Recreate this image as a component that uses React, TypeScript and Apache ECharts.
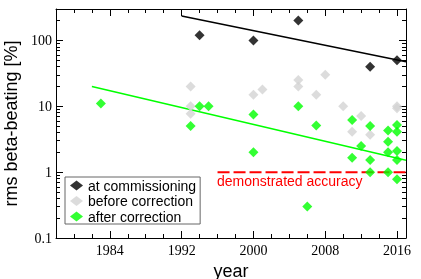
import React, { useEffect, useRef } from "react";
import * as echarts from "echarts";

// ---- data ----
const commissioning: [number, number][] = [
  [1994, 120], [2000, 100], [2005, 200], [2013, 40], [2016, 50],
];
const beforeCorrection: [number, number][] = [
  [1993, 20], [1993, 10], [1993, 7.7], [2000, 15], [2001, 18],
  [2005, 25], [2005, 20], [2007, 15], [2008, 30], [2010, 10],
  [2011, 4.1], [2012, 7.1], [2013, 3.7], [2016, 10], [2016, 9.3],
];
const afterCorrection: [number, number][] = [
  [1983, 11], [1993, 5], [1994, 10], [1995, 10], [2000, 7.5], [2000, 2],
  [2005, 10], [2006, 0.3], [2007, 5.1], [2011, 6.2], [2011, 1.65],
  [2012, 2.5], [2013, 5], [2013, 1.53], [2013, 1.0], [2015, 4.3],
  [2015, 2.9], [2015, 2.0], [2015, 1.0], [2016, 5.2], [2016, 4.1],
  [2016, 2.1], [2016, 1.53], [2016, 0.78],
];
const commissioningTrend: [number, number][] = [[1992, 234], [2017, 47.5]];
const correctedTrend: [number, number][] = [[1982, 20], [2017, 1.52]];
const accuracyLine: [number, number][] = [[1996, 1], [2017, 1]];

const xMajor = [1984, 1992, 2000, 2008, 2016];
const xMinor = [1978, 1980, 1982, 1986, 1988, 1990, 1994, 1996, 1998, 2002, 2004, 2006, 2010, 2012, 2014];
const yMajor = [0.1, 1, 10, 100];
const yMinor = [
  0.2, 0.3, 0.4, 0.5, 0.6, 0.7, 0.8, 0.9,
  2, 3, 4, 5, 6, 7, 8, 9,
  20, 30, 40, 50, 60, 70, 80, 90,
  200, 300,
];

const SERIF = "Liberation Serif";
const SANS = "Liberation Sans";

export default function App() {
  const ref = useRef<HTMLDivElement>(null);
  useEffect(() => {
    if (!ref.current) return;
    const chart = echarts.init(ref.current, undefined, { renderer: "svg" });
    const axisLine = { show: true, lineStyle: { color: "#000", width: 1 } };
    const xBase = { type: "value", min: 1978, max: 2017, splitLine: { show: false } };
    const yBase = { type: "log", logBase: 10, min: 0.1, max: 300, splitLine: { show: false } };
    const tick = (vals: number[], len: number) => ({
      show: true, inside: true, length: len, customValues: vals,
      lineStyle: { color: "#000", width: 1 },
    });
    chart.setOption({
      animation: false,
      grid: { left: 56, right: 15, top: 9, bottom: 41, containLabel: false, outerBoundsMode: "none" },
      xAxis: [
        {
          ...xBase, position: "bottom", axisLine, axisTick: tick(xMajor, 7),
          axisLabel: {
            customValues: xMajor, color: "#000", fontFamily: SERIF, fontSize: 14, margin: 5,
            formatter: (v: number) => String(v),
          },
          name: "year", nameLocation: "middle", nameGap: 16,
          nameTextStyle: { fontFamily: SANS, fontSize: 18, color: "#000" },
        },
        { ...xBase, position: "bottom", axisLine: { show: false }, axisTick: tick(xMinor, 4), axisLabel: { show: false } },
        { ...xBase, position: "top", axisLine, axisTick: tick(xMajor, 7), axisLabel: { show: false } },
        { ...xBase, position: "top", axisLine: { show: false }, axisTick: tick(xMinor, 4), axisLabel: { show: false } },
      ],
      yAxis: [
        {
          ...yBase, position: "left", axisLine, axisTick: tick(yMajor, 7),
          axisLabel: {
            customValues: yMajor, color: "#000", fontFamily: SERIF, fontSize: 14, margin: 4,
            formatter: (v: number) => String(v),
          },
          name: "rms beta-beating [%]", nameLocation: "middle", nameGap: 35,
          nameTextStyle: { fontFamily: SANS, fontSize: 18, color: "#000" },
        },
        { ...yBase, position: "left", axisLine: { show: false }, axisTick: tick(yMinor, 4), axisLabel: { show: false } },
        { ...yBase, position: "right", axisLine, axisTick: tick(yMajor, 7), axisLabel: { show: false } },
        { ...yBase, position: "right", axisLine: { show: false }, axisTick: tick(yMinor, 4), axisLabel: { show: false } },
      ],
      legend: {
        orient: "vertical", left: 65, top: 177,
        data: ["at commissioning", "before correction", "after correction"],
        icon: "diamond", itemWidth: 13, itemHeight: 10, itemGap: 0.5,
        padding: [1, 4, 0, 5], borderColor: "#666", borderWidth: 1,
        backgroundColor: "#fff",
        textStyle: { fontFamily: SANS, fontSize: 14, color: "#000", lineHeight: 15 },
      },
      graphic: [
        {
          type: "text", left: 217, top: 174, z: 10,
          style: { text: "demonstrated accuracy", fill: "#ff0000", font: `14px ${SANS}` },
        },
      ],
      series: [
        {
          type: "line", data: accuracyLine, showSymbol: false, symbol: "none", z: 1,
          lineStyle: { color: "#ff0000", width: 2, type: [12, 4] },
        },
        {
          type: "line", data: correctedTrend, showSymbol: false, symbol: "none", z: 2,
          lineStyle: { color: "#00ff00", width: 1.5 },
        },
        {
          type: "line", data: commissioningTrend, showSymbol: false, symbol: "none", z: 2,
          lineStyle: { color: "#000", width: 1.5 },
        },
        {
          name: "before correction", type: "scatter", data: beforeCorrection, z: 3,
          symbol: "diamond", symbolSize: 10, itemStyle: { color: "#d3d3d3" },
        },
        {
          name: "after correction", type: "scatter", data: afterCorrection, z: 4,
          symbol: "diamond", symbolSize: 10, itemStyle: { color: "#00ff00" },
        },
        {
          name: "at commissioning", type: "scatter", data: commissioning, z: 5,
          symbol: "diamond", symbolSize: 10, itemStyle: { color: "#000" },
        },
      ],
    });
    return () => chart.dispose();
  }, []);
  return <div ref={ref} style={{ width: 421, height: 279, position: "fixed", left: 0, top: 0 }} />;
}
